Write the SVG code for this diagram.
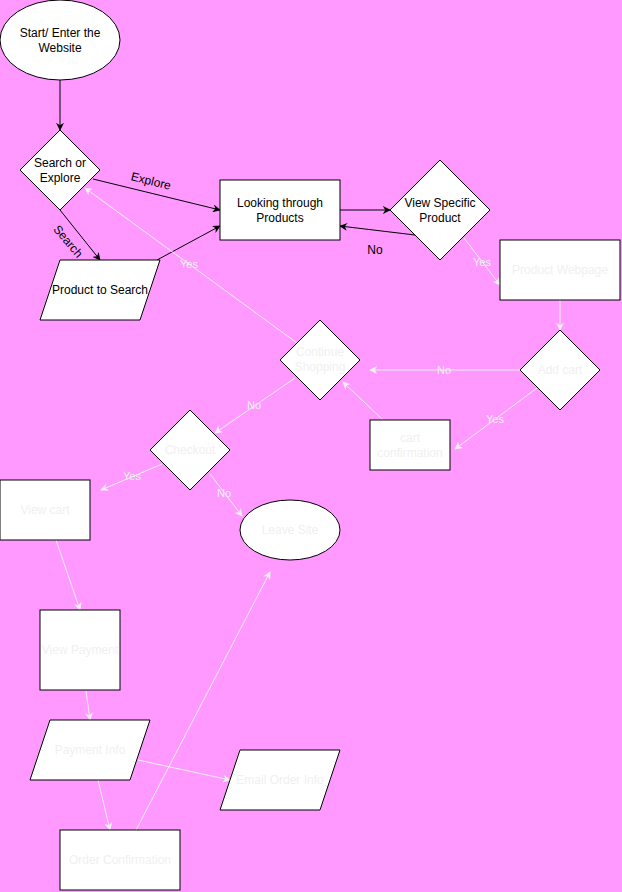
<svg xmlns="http://www.w3.org/2000/svg" width="622" height="892" viewBox="0 0 622 892">
<defs>
<marker id="ab" viewBox="0 0 10 10" refX="9" refY="5" markerWidth="8" markerHeight="8" markerUnits="userSpaceOnUse" orient="auto"><path d="M0,0 L10,5 L0,10 L3,5 z" fill="#000"/></marker>
<marker id="aw" viewBox="0 0 10 10" refX="9" refY="5" markerWidth="8" markerHeight="8" markerUnits="userSpaceOnUse" orient="auto"><path d="M0,0 L10,5 L0,10 L3,5 z" fill="#f0f0f0"/></marker>
<style>
.n{fill:#fff;stroke:#000;stroke-width:1}
.t{font-family:"Liberation Sans",Arial,sans-serif;font-size:12px;text-anchor:middle;fill:#000}
.tl{font-family:"Liberation Sans",Arial,sans-serif;font-size:12px;text-anchor:middle;fill:#f0f0f0}
.lb{font-family:"Liberation Sans",Arial,sans-serif;font-size:11px;text-anchor:middle;fill:#f0f0f0}
.lk{font-family:"Liberation Sans",Arial,sans-serif;font-size:12px;text-anchor:middle;fill:#000}
.eb{fill:none;stroke:#000;stroke-width:1;marker-end:url(#ab)}
.ew{fill:none;stroke:#f0f0f0;stroke-width:1;marker-end:url(#aw)}
</style>
</defs>
<rect width="622" height="892" fill="#ff99ff"/>
<g id="connectors">
<path class="eb" d="M60,80 L60,130"/>
<path class="eb" d="M93,179 L220,210"/>
<path class="eb" d="M60,210 L100,260"/>
<path class="eb" d="M157,260 L220,226"/>
<path class="eb" d="M340,210 L390,210"/>
<path class="eb" d="M415,235 L340,226"/>
<path class="ew" d="M464,238 L500,285"/>
<path class="ew" d="M560,300 L560,330"/>
<path class="ew" d="M520,370 L370,370"/>
<path class="ew" d="M537,388 L455,449"/>
<path class="ew" d="M383,420 L343,382"/>
<path class="ew" d="M297,343 L85,188"/>
<path class="ew" d="M295,378 L215,433"/>
<path class="ew" d="M162,464 L101,490"/>
<path class="ew" d="M210,474 L242,516"/>
<path class="ew" d="M56,540 L80,610"/>
<path class="ew" d="M86,691 L90,720"/>
<path class="ew" d="M138,760 L230,780"/>
<path class="ew" d="M98,780 L110,830"/>
<path class="ew" d="M136,830 L270,572"/>
<text class="lk" transform="translate(150,185) rotate(14)">Explore</text>
<text class="lk" transform="translate(65,244) rotate(50)">Search</text>
<text class="lk" x="375" y="254">No</text>
<text class="lb" x="482" y="266">Yes</text>
<text class="lb" x="444" y="374">No</text>
<text class="lb" x="495" y="423">Yes</text>
<text class="lb" x="189" y="268">Yes</text>
<text class="lb" x="254" y="409">No</text>
<text class="lb" x="132" y="480">Yes</text>
<text class="lb" x="224" y="497">No</text>
</g>
<g id="start"><ellipse class="n" cx="60" cy="40" rx="60" ry="40"/><text class="t" x="60" y="37">Start/ Enter the</text><text class="t" x="60" y="52">Website</text></g>
<g id="searchOrExplore"><path class="n" d="M60,130 L100,170 L60,210 L20,170 z"/><text class="t" x="60" y="167">Search or</text><text class="t" x="60" y="182">Explore</text></g>
<g id="looking"><rect class="n" x="220" y="180" width="120" height="60"/><text class="t" x="280" y="207">Looking through</text><text class="t" x="280" y="222">Products</text></g>
<g id="productToSearch"><path class="n" d="M60,260 L160,260 L140,320 L40,320 z"/><text class="t" x="100" y="294">Product to Search</text></g>
<g id="viewSpecific"><path class="n" d="M440,160 L490,210 L440,260 L390,210 z"/><text class="t" x="440" y="207">View Specific</text><text class="t" x="440" y="222">Product</text></g>
<g id="productWebpage"><rect class="n" x="500" y="240" width="120" height="60"/><text class="tl" x="560" y="274">Product Webpage</text></g>
<g id="addCart"><path class="n" d="M560,330 L600,370 L560,410 L520,370 z"/><text class="tl" x="560" y="374">Add cart</text></g>
<g id="cartConfirmation"><rect class="n" x="370" y="420" width="80" height="50"/><text class="tl" x="410" y="442">cart</text><text class="tl" x="410" y="457">confirmation</text></g>
<g id="continueShopping"><path class="n" d="M320,320 L360,360 L320,400 L280,360 z"/><text class="tl" x="320" y="356">Continue</text><text class="tl" x="320" y="371">Shopping</text></g>
<g id="checkout"><path class="n" d="M190,410 L230,450 L190,490 L150,450 z"/><text class="tl" x="190" y="454">Checkout</text></g>
<g id="viewCart"><rect class="n" x="0" y="480" width="90" height="60"/><text class="tl" x="45" y="514">View cart</text></g>
<g id="leaveSite"><ellipse class="n" cx="290" cy="530" rx="50" ry="30"/><text class="tl" x="290" y="534">Leave Site</text></g>
<g id="viewPayment"><rect class="n" x="40" y="610" width="80" height="80"/><text class="tl" x="80" y="654">View Payment</text></g>
<g id="paymentInfo"><path class="n" d="M50,720 L150,720 L130,780 L30,780 z"/><text class="tl" x="90" y="754">Payment Info</text></g>
<g id="emailOrderInfo"><path class="n" d="M240,750 L340,750 L320,810 L220,810 z"/><text class="tl" x="280" y="784">Email Order Info</text></g>
<g id="orderConfirmation"><rect class="n" x="60" y="830" width="120" height="60"/><text class="tl" x="120" y="864">Order Confirmation</text></g>
</svg>
